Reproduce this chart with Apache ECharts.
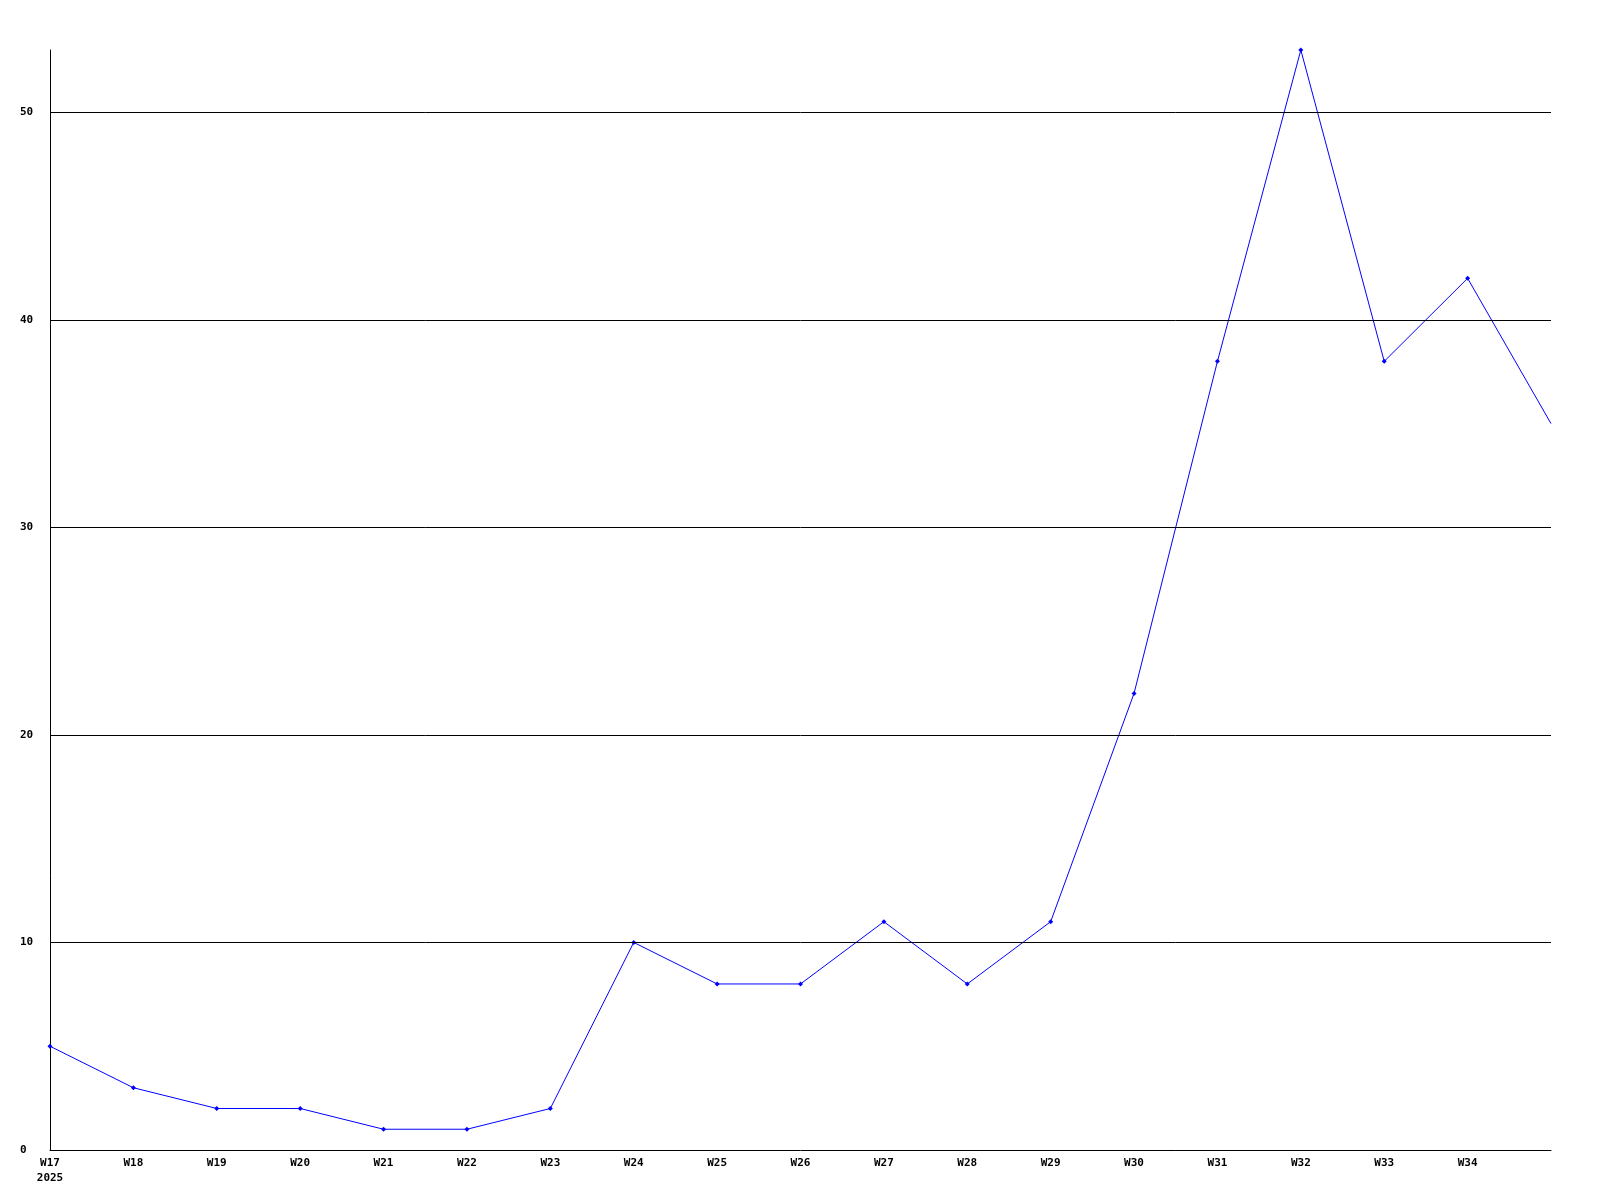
<!DOCTYPE html>
<html><head><meta charset="utf-8">
<script src="https://cdn.jsdelivr.net/npm/echarts@6/dist/echarts.min.js"></script>
<style>html,body{margin:0;padding:0;background:#fff}#c{width:1600px;height:1200px}</style>
</head><body><div id="c"></div>
<script>
const weeks = ['W17','W18','W19','W20','W21','W22','W23','W24','W25','W26','W27','W28','W29','W30','W31','W32','W33','W34','W35'];
const tickLabels = ['W17\n2025','W18','W19','W20','W21','W22','W23','W24','W25','W26','W27','W28','W29','W30','W31','W32','W33','W34',''];
const values = [5,3,2,2,1,1,2,10,8,8,11,8,11,22,38,53,38,42,35];
const gridValues = [10,20,30,40,50];
const yMax = 53;

const font = {fontFamily:'DejaVu Sans Mono', fontWeight:'bold', fontSize:11, color:'#000'};
const chart = echarts.init(document.getElementById('c'));
chart.setOption({
  animation:false,
  backgroundColor:'#fff',
  grid:{left:50,right:49,top:50,bottom:50},
  xAxis:{
    type:'category', data:weeks, boundaryGap:false,
    axisLine:{lineStyle:{color:'#000',width:1}},
    axisTick:{show:false},
    splitLine:{show:false},
    axisLabel:Object.assign({margin:6, interval:0, lineHeight:15,
      formatter:(v,i)=>tickLabels[i]}, font)
  },
  yAxis:{
    type:'value', min:0, max:yMax, interval:10,
    axisLine:{show:true, lineStyle:{color:'#000',width:1}},
    axisTick:{show:false},
    splitLine:{show:false},
    axisLabel:Object.assign({margin:30, align:'left',
      formatter:v=> (v%10===0 && v<=50) ? String(v) : ''}, font)
  },
  series:[{
    type:'line',
    data:values.map((v,i)=> i===values.length-1 ? {value:v, symbol:'none'} : v),
    symbol:'diamond', symbolSize:5, showSymbol:true,
    lineStyle:{color:'#0000ff',width:1},
    itemStyle:{color:'#0000ff'},
    markLine:{silent:true, symbol:['none','none'], label:{show:false},
      lineStyle:{color:'#000',width:1,type:'solid'},
      data:gridValues.map(v=>({yAxis:v}))},
    z:3
  }]
});
</script></body></html>
